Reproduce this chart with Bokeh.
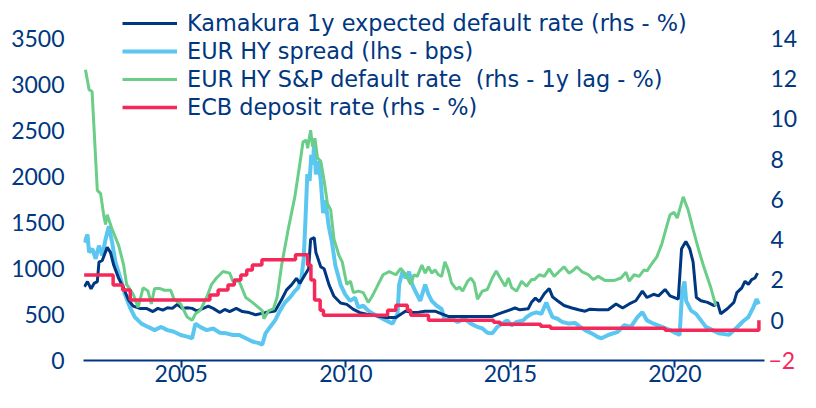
from bokeh.plotting import figure
from bokeh.models import Range1d, LinearAxis, FixedTicker, Legend, LegendItem
from bokeh.embed import file_html
from bokeh.resources import INLINE

# ---------------- data ----------------
kam_x = [2002.06, 2002.15, 2002.26, 2002.35, 2002.45, 2002.50, 2002.60, 2002.75, 2002.85, 2002.95,
         2003.10, 2003.25, 2003.39, 2003.54, 2003.74, 2003.94, 2004.14, 2004.29, 2004.44, 2004.58,
         2004.73, 2004.88, 2005.03, 2005.18, 2005.33, 2005.48, 2005.67, 2005.82, 2005.97, 2006.17,
         2006.32, 2006.47, 2006.67, 2006.86, 2007.06, 2007.26, 2007.56, 2007.85, 2008.05, 2008.20,
         2008.35, 2008.50, 2008.60, 2008.75, 2008.87, 2008.93, 2009.04, 2009.09, 2009.24, 2009.34,
         2009.49, 2009.64, 2009.84, 2010.03, 2010.23, 2010.43, 2010.63, 2010.93, 2011.22, 2011.52,
         2011.82, 2012.02, 2012.21, 2012.41, 2012.71, 2012.91, 2013.11, 2013.50, 2014.00, 2014.45,
         2014.60, 2014.79, 2014.99, 2015.14, 2015.29, 2015.54, 2015.64, 2015.76, 2015.88, 2016.03,
         2016.18, 2016.28, 2016.43, 2016.63, 2016.87, 2017.07, 2017.27, 2017.42, 2017.67, 2017.97,
         2018.21, 2018.41, 2018.61, 2018.81, 2019.01, 2019.15, 2019.35, 2019.50, 2019.70, 2019.85,
         2020.10, 2020.20, 2020.33, 2020.45, 2020.55, 2020.65, 2020.79, 2020.99, 2021.19, 2021.29,
         2021.39, 2021.59, 2021.79, 2021.88, 2022.03, 2022.13, 2022.23, 2022.33, 2022.43, 2022.51]
kam_y = [1.67, 1.92, 1.56, 1.83, 1.92, 2.89, 2.97, 3.62, 3.37, 2.73,
         2.08, 1.59, 1.03, 0.70, 0.59, 0.59, 0.43, 0.59, 0.50, 0.62,
         0.59, 0.79, 0.59, 0.62, 0.59, 0.46, 0.59, 0.70, 0.59, 0.38,
         0.54, 0.43, 0.59, 0.43, 0.38, 0.27, 0.38, 0.46, 1.03, 1.51,
         1.76, 2.08, 1.83, 2.24, 2.56, 4.02, 4.10, 3.37, 2.65, 2.56,
         1.76, 1.19, 0.86, 0.79, 0.54, 0.38, 0.30, 0.22, 0.14, 0.14,
         0.46, 0.38, 0.40, 0.45, 0.45, 0.32, 0.19, 0.19, 0.19, 0.19,
         0.29, 0.40, 0.52, 0.61, 0.52, 0.57, 0.89, 1.10, 0.93, 1.32,
         1.58, 1.16, 0.97, 0.73, 0.61, 0.52, 0.45, 0.55, 0.52, 0.52,
         0.81, 0.61, 0.81, 0.97, 1.45, 1.13, 1.29, 1.21, 1.53, 1.21,
         1.05, 3.55, 3.91, 3.55, 2.90, 1.13, 0.97, 0.89, 0.73, 0.89,
         0.32, 0.57, 0.89, 1.37, 1.61, 1.94, 1.78, 2.02, 2.10, 2.34]

hy_x = [2002.06, 2002.15, 2002.20, 2002.30, 2002.40, 2002.50, 2002.60, 2002.70, 2002.80, 2002.90,
        2003.00, 2003.15, 2003.29, 2003.44, 2003.59, 2003.79, 2003.99, 2004.19, 2004.39, 2004.58,
        2004.78, 2004.98, 2005.18, 2005.33, 2005.43, 2005.57, 2005.77, 2005.97, 2006.17, 2006.37,
        2006.57, 2006.76, 2006.96, 2007.16, 2007.36, 2007.46, 2007.56, 2007.70, 2007.85, 2008.00,
        2008.15, 2008.30, 2008.45, 2008.55, 2008.65, 2008.72, 2008.77, 2008.83, 2008.90, 2008.95,
        2009.00, 2009.04, 2009.09, 2009.16, 2009.24, 2009.31, 2009.38, 2009.48, 2009.58, 2009.68,
        2009.84, 2009.98, 2010.13, 2010.28, 2010.38, 2010.53, 2010.68, 2010.83, 2011.03, 2011.22,
        2011.42, 2011.57, 2011.62, 2011.72, 2011.82, 2011.92, 2012.02, 2012.11, 2012.26, 2012.41,
        2012.51, 2012.61, 2012.76, 2012.91, 2013.01, 2013.21, 2013.40, 2013.60, 2013.80, 2014.00,
        2014.15, 2014.30, 2014.45, 2014.60, 2014.75, 2014.90, 2015.04, 2015.19, 2015.39, 2015.49,
        2015.64, 2015.79, 2015.94, 2016.09, 2016.17, 2016.28, 2016.43, 2016.58, 2016.77, 2016.97,
        2017.12, 2017.27, 2017.47, 2017.67, 2017.77, 2017.97, 2018.26, 2018.46, 2018.66, 2018.86,
        2019.01, 2019.15, 2019.35, 2019.60, 2019.85, 2020.05, 2020.14, 2020.22, 2020.29, 2020.34,
        2020.49, 2020.64, 2020.79, 2020.94, 2021.14, 2021.34, 2021.64, 2021.88, 2022.08, 2022.23,
        2022.38, 2022.48, 2022.55]
hy_y = [1283, 1371, 1177, 1212, 1106, 1248, 1142, 1318, 1460, 1283,
        1071, 895, 719, 577, 471, 401, 365, 330, 365, 330,
        312, 277, 259, 242, 401, 365, 330, 348, 302, 295,
        277, 277, 242, 206, 189, 171, 295, 365, 436, 542,
        630, 683, 754, 789, 895, 1106, 1495, 2024, 1953, 2236,
        2130, 2377, 2024, 2165, 1953, 1601, 1742, 1460, 1283, 1036,
        825, 719, 648, 683, 577, 595, 542, 507, 471, 436,
        401, 507, 825, 965, 895, 965, 825, 754, 648, 825,
        719, 648, 595, 560, 436, 454, 418, 454, 401, 365,
        348, 302, 295, 365, 401, 436, 383, 418, 436, 471,
        507, 524, 507, 630, 560, 471, 454, 418, 401, 408,
        365, 330, 295, 253, 242, 277, 312, 383, 365, 471,
        524, 436, 400, 365, 330, 295, 277, 754, 860, 648,
        542, 507, 436, 365, 330, 295, 281, 359, 429, 471,
        577, 666, 613]

sp_x = [2002.09, 2002.20, 2002.29, 2002.45, 2002.55, 2002.65, 2002.70, 2002.75, 2002.90, 2003.10,
        2003.25, 2003.34, 2003.54, 2003.69, 2003.84, 2003.99, 2004.09, 2004.19, 2004.34, 2004.49,
        2004.68, 2004.78, 2004.98, 2005.18, 2005.33, 2005.43, 2005.57, 2005.77, 2005.92, 2006.07,
        2006.27, 2006.47, 2006.57, 2006.76, 2006.96, 2007.16, 2007.46, 2007.51, 2007.66, 2007.80,
        2007.91, 2008.05, 2008.25, 2008.45, 2008.60, 2008.70, 2008.80, 2008.84, 2008.93, 2008.99,
        2009.06, 2009.14, 2009.24, 2009.34, 2009.44, 2009.54, 2009.64, 2009.79, 2009.89, 2010.03,
        2010.14, 2010.23, 2010.38, 2010.53, 2010.68, 2010.78, 2010.93, 2011.13, 2011.32, 2011.52,
        2011.67, 2011.82, 2011.97, 2012.07, 2012.17, 2012.31, 2012.41, 2012.51, 2012.61, 2012.71,
        2012.81, 2012.91, 2013.01, 2013.11, 2013.21, 2013.36, 2013.45, 2013.55, 2013.70, 2013.80,
        2013.90, 2014.00, 2014.15, 2014.30, 2014.45, 2014.57, 2014.69, 2014.84, 2014.94, 2015.04,
        2015.19, 2015.34, 2015.49, 2015.64, 2015.73, 2015.88, 2016.03, 2016.18, 2016.33, 2016.48,
        2016.63, 2016.78, 2016.92, 2017.02, 2017.17, 2017.37, 2017.52, 2017.67, 2017.87, 2018.16,
        2018.36, 2018.51, 2018.61, 2018.76, 2018.91, 2019.06, 2019.15, 2019.30, 2019.45, 2019.60,
        2019.75, 2019.85, 2019.97, 2020.07, 2020.25, 2020.40, 2020.55, 2020.74, 2020.89, 2021.09,
        2021.24]
sp_y = [12.45, 11.46, 11.37, 6.45, 6.29, 5.16, 4.76, 5.24, 4.52, 3.71,
        2.74, 1.78, 1.29, 0.64, 1.61, 1.45, 0.81, 1.58, 1.58, 1.49,
        1.49, 1.05, 0.81, 0.16, 0.00, 0.32, 0.48, 1.13, 1.78, 2.10,
        2.42, 2.34, 1.94, 1.94, 1.13, 0.89, 0.48, 0.08, 0.48, 0.57,
        1.13, 2.74, 4.52, 6.13, 7.74, 8.87, 8.95, 8.55, 9.44, 8.63,
        9.04, 8.07, 7.90, 6.94, 5.81, 5.48, 4.03, 3.23, 2.90, 1.78,
        1.94, 1.37, 1.45, 1.37, 0.89, 1.13, 1.61, 2.26, 2.42, 2.26,
        2.58, 2.26, 1.78, 2.26, 2.18, 2.74, 2.34, 2.66, 2.34, 2.50,
        2.26, 2.18, 2.90, 2.50, 1.86, 1.53, 1.65, 1.45, 1.94, 2.10,
        1.86, 1.05, 1.45, 1.53, 2.10, 2.45, 2.10, 1.69, 2.10, 1.61,
        1.45, 1.94, 1.69, 2.02, 2.02, 2.26, 2.18, 2.55, 2.18, 2.42,
        2.66, 2.34, 2.50, 2.66, 2.42, 2.26, 2.02, 2.18, 1.98, 1.98,
        2.10, 2.39, 1.94, 2.26, 2.18, 2.50, 2.45, 2.82, 3.15, 3.79,
        4.68, 5.24, 5.36, 5.08, 6.13, 5.48, 4.52, 3.39, 2.58, 1.61,
        0.73]

ecb_x = [2002.05, 2002.93, 2003.22, 2003.45, 2005.87, 2006.12, 2006.42, 2006.61, 2006.81, 2006.99,
         2007.16, 2007.45, 2008.47, 2008.84, 2008.94, 2009.05, 2009.22, 2009.32, 2011.27, 2011.52,
         2011.87, 2011.97, 2012.51, 2014.49, 2014.69, 2015.92, 2016.22, 2019.70, 2022.55]
ecb_y = [2.25, 1.75, 1.50, 1.00, 1.25, 1.50, 1.75, 2.00, 2.25, 2.50,
         2.75, 3.00, 3.25, 2.75, 2.00, 1.00, 0.50, 0.25, 0.50, 0.75,
         0.50, 0.25, 0.00, -0.10, -0.20, -0.30, -0.40, -0.50, 0.00]

x_ticks = [2005, 2010, 2015, 2020]
left_ticks = [0, 500, 1000, 1500, 2000, 2500, 3000, 3500]
right_ticks = [0, 2, 4, 6, 8, 10, 12, 14]
right_neg_ticks = [-2]

labels = ["Kamakura 1y expected default rate (rhs - %)",
          "EUR HY spread (lhs - bps)",
          "EUR HY S&P default rate  (rhs - 1y lag - %)",
          "ECB deposit rate (rhs - %)"]

# ---------------- styling ----------------
NAVY = "#003781"
LIGHT = "#5BC6F0"
GREEN = "#6ACD88"
RED = "#F5285A"
TICK_FONT = "Lato"
LEG_FONT = "DejaVu Sans"

L_START, L_END = 0, 3913
R_START = -2
R_END = R_START + (L_END - L_START) * 16 / 3500

p = figure(width=800, height=392, output_backend="svg", toolbar_location=None,
           x_range=Range1d(2002.03, 2022.72), y_range=Range1d(L_START, L_END),
           min_border_left=83, min_border_right=30, min_border_top=0, min_border_bottom=32)
p.extra_y_ranges = {"right": Range1d(R_START, R_END)}
p.outline_line_color = None
p.grid.visible = False
p.background_fill_color = "white"
p.border_fill_color = "white"

r_hy = p.line(hy_x, hy_y, color=LIGHT, line_width=4)
r_kam = p.line(kam_x, kam_y, color=NAVY, line_width=3, y_range_name="right")
r_sp = p.line(sp_x, sp_y, color=GREEN, line_width=3, y_range_name="right")
r_ecb = p.step(ecb_x, ecb_y, color=RED, line_width=3.5, mode="after", y_range_name="right")


def style_y(ax, color, standoff):
    ax.axis_line_color = None
    ax.major_tick_line_color = None
    ax.minor_tick_line_color = None
    ax.major_tick_out = 0
    ax.major_tick_in = 0
    ax.minor_tick_out = 0
    ax.major_label_standoff = standoff
    ax.major_label_text_font = TICK_FONT
    ax.major_label_text_font_size = "23px"
    ax.major_label_text_color = color


# x axis
xa = p.xaxis[0]
xa.ticker = FixedTicker(ticks=x_ticks)
xa.axis_line_color = NAVY
xa.axis_line_width = 2
xa.major_tick_line_color = NAVY
xa.major_tick_line_width = 2
xa.major_tick_out = 7
xa.major_tick_in = 0
xa.minor_tick_line_color = None
xa.major_label_standoff = -3
xa.major_label_text_font = TICK_FONT
xa.major_label_text_font_size = "23px"
xa.major_label_text_color = NAVY

# left axis (bps)
ya = p.yaxis[0]
ya.ticker = FixedTicker(ticks=left_ticks)
style_y(ya, NAVY, 19)

# right axes (%): the "-2" label is red, placed next to the frame; the others follow
ra_neg = LinearAxis(y_range_name="right", ticker=FixedTicker(ticks=right_neg_ticks))
style_y(ra_neg, RED, 4)
p.add_layout(ra_neg, "right")

ra = LinearAxis(y_range_name="right", ticker=FixedTicker(ticks=right_ticks))
style_y(ra, NAVY, -28)
p.add_layout(ra, "right")

legend = Legend(items=[LegendItem(label=labels[0], renderers=[r_kam]),
                       LegendItem(label=labels[1], renderers=[r_hy]),
                       LegendItem(label=labels[2], renderers=[r_sp]),
                       LegendItem(label=labels[3], renderers=[r_ecb])],
                location=(39, 239), padding=0, spacing=0, margin=0,
                glyph_width=55, glyph_height=28, label_height=28, label_standoff=10,
                label_text_font=LEG_FONT, label_text_font_size="22.4px", label_text_color=NAVY,
                border_line_color=None, background_fill_alpha=0)
p.add_layout(legend)

open("out.html", "w").write(file_html(p, INLINE))
